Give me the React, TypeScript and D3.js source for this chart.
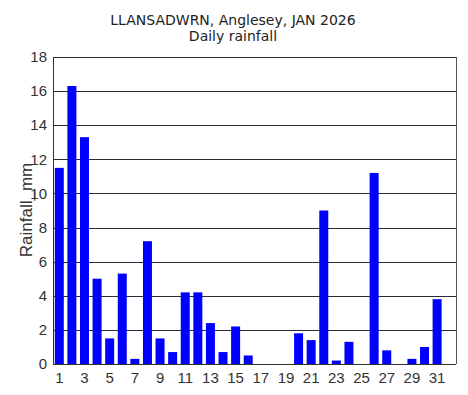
import React from 'react';
import * as d3 from 'd3';

// daily rainfall, Llansadwrn Jan 2026 (mm)
const days = d3.range(1, 32);
const rainfall = [
  11.5, 16.3, 13.3, 5.0, 1.5, 5.3, 0.3, 7.2, 1.5, 0.7,
  4.2, 4.2, 2.4, 0.7, 2.2, 0.5, 0, 0, 0, 1.8,
  1.4, 9.0, 0.2, 1.3, 0, 11.2, 0.8, 0, 0.3, 1.0, 3.8
];
const yTicks = [0, 2, 4, 6, 8, 10, 12, 14, 16, 18];
const xTickDays = [1, 3, 5, 7, 9, 11, 13, 15, 17, 19, 21, 23, 25, 27, 29, 31];
const titleLines = ['LLANSADWRN, Anglesey, JAN 2026', 'Daily rainfall'];
const yLabel = 'Rainfall_mm';

export default function App() {
  const width = 468;
  const height = 395;
  const margins = { left: 53, right: 12, top: 57, bottom: 31 };
  const plotW = width - margins.left - margins.right;
  const plotH = height - margins.top - margins.bottom;

  // 32 slots so the last one stays empty, like the original
  const xScale = d3.scaleLinear().domain([0.5, 32.5]).range([0, plotW]);
  const yScale = d3.scaleLinear().domain([0, 18]).range([plotH, 0]);
  const barW = 9;

  return (
    <svg width={width} height={height} style={{ position: 'absolute', left: 0, top: 0, background: '#fff' }}>
      <g fontFamily="'DejaVu Sans', Verdana, sans-serif" fontSize={14} fill="#222" textAnchor="middle">
        <text x={233} y={25}>{titleLines[0]}</text>
        <text x={233} y={41}>{titleLines[1]}</text>
      </g>
      <g transform={`translate(${margins.left},${margins.top})`}>
        {yTicks.map(t => (
          <line key={'g' + t} x1={0} x2={plotW} y1={Math.round(yScale(t)) + 0.5} y2={Math.round(yScale(t)) + 0.5}
            stroke="#2b2b38" strokeWidth={1} />
        ))}
        {days.map((d, i) => (
          <rect key={d} x={xScale(d) - barW / 2} width={barW}
            y={yScale(rainfall[i])} height={plotH - yScale(rainfall[i])} fill="#0000ff" />
        ))}
        <line x1={0.5} x2={0.5} y1={0} y2={plotH} stroke="#333" />
        <line x1={plotW + 0.5} x2={plotW + 0.5} y1={0} y2={plotH} stroke="#555" />
        <line x1={0} x2={plotW} y1={plotH + 0.5} y2={plotH + 0.5} stroke="#333" />
        <g fontFamily="'Liberation Sans', Arial, sans-serif" fontSize={15} fill="#333">
          {yTicks.map(t => (
            <text key={'y' + t} x={-6} y={yScale(t)} dy="0.35em" textAnchor="end">{t}</text>
          ))}
          {xTickDays.map(d => (
            <text key={'x' + d} x={xScale(d)} y={plotH + 19} textAnchor="middle">{d}</text>
          ))}
        </g>
      </g>
      <text transform={`translate(32,210) rotate(-90)`} textAnchor="middle"
        fontFamily="'Liberation Sans', Arial, sans-serif" fontSize={17} fill="#333">{yLabel}</text>
    </svg>
  );
}
